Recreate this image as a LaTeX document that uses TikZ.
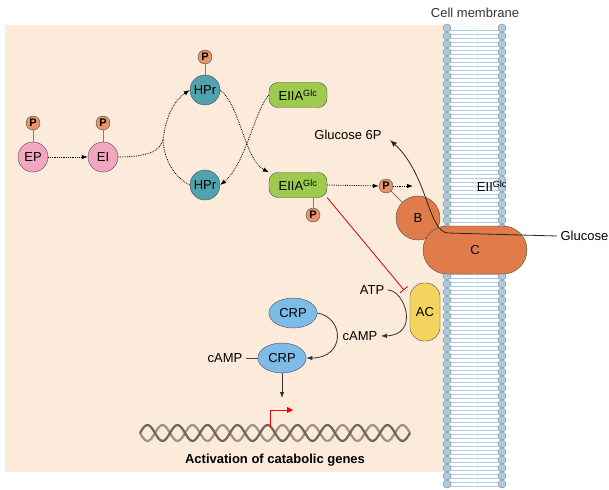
\documentclass[tikz,border=0pt]{standalone}
\usepackage{fontspec}
\setmainfont{Liberation Sans}
\usetikzlibrary{arrows.meta,shapes.geometric}
\definecolor{bg}{HTML}{FCEBDA}
\definecolor{pinkc}{HTML}{F2A6C0}
\definecolor{tealc}{HTML}{4FA3B0}
\definecolor{greenc}{HTML}{9CCB4E}
\definecolor{orangec}{HTML}{E07B4A}
\definecolor{pc}{HTML}{E8956A}
\definecolor{bluec}{HTML}{7DBCE8}
\definecolor{yellowc}{HTML}{F4D35E}
\definecolor{memb}{HTML}{A9CCE3}
\definecolor{dna}{HTML}{9E9282}
\begin{document}
\begin{tikzpicture}[x=1pt,y=-1pt,font=\fontsize{13}{14}\selectfont,
 circ/.style={circle,draw=black!70,minimum size=30pt,inner sep=0pt},
 pn/.style={circle,draw=black!70,fill=pc,minimum size=14pt,inner sep=0pt,font=\fontsize{11}{11}\selectfont\bfseries},
 eiia/.style={rounded corners=9pt,draw=black!70,fill=greenc,minimum width=58pt,minimum height=25pt,inner sep=1pt},
 dotar/.style={densely dotted,thick,-{Latex[length=6pt]}},
 dotl/.style={densely dotted,thick},
 stem/.style={draw=black!50,thick},
 arr/.style={thick,black!80,-{Latex[length=6pt]}}]
\useasboundingbox (0,0) rectangle (609,489);
\fill[bg] (5,25) rectangle (443,472);
% membrane
\fill[white] (443,25) rectangle (505,489);
\foreach \y in {30,34,...,486}{
 \draw[memb,thin] (449,\y) -- (500,\y);
}
\draw[white,thick] (474.5,25) -- (474.5,489);
\foreach \y in {28,36,...,486}{
 \draw[fill=memb,draw=black!50,thin] (447,\y) circle (4);
 \draw[fill=memb,draw=black!50,thin] (502,\y) circle (4);
}
\node[black!80] (cm) at (475,13) {Cell membrane};
% PTS
\node[circ,fill=pinkc] (ep) at (33,157) {EP};
\node[pn] (pep) at (33,123) {P};
\draw[stem] (pep) -- (ep);
\node[circ,fill=pinkc] (ei) at (103,157) {EI};
\node[pn] (pei) at (103,123) {P};
\draw[stem] (pei) -- (ei);
\node[circ,fill=tealc] (hpt) at (205,90) {HPr};
\node[pn] (phpt) at (205,57) {P};
\draw[stem] (phpt) -- (hpt);
\node[circ,fill=tealc] (hpb) at (205,185) {HPr};
\node[eiia] (eat) at (298,95) {EIIA\textsuperscript{Glc}};
\node[eiia] (eab) at (298,185) {EIIA\textsuperscript{Glc}};
\node[pn] (peab) at (313,215) {P};
\draw[stem] (peab) -- (313,197);
\draw[dotar] (ep) -- (ei);
\coordinate (lc) at (163,140);
\draw[dotl] (ei) .. controls (150,157) and (160,150) .. (lc);
\draw[dotar] (lc) .. controls (166,115) and (175,100) .. (hpt.west);
\draw[dotl] (lc) .. controls (164,160) and (175,178) .. (hpb.west);
\draw[dotar] (hpt.east) .. controls (240,105) and (245,160) .. (eab.north west);
\draw[dotar] (eat.west) .. controls (255,110) and (245,165) .. (hpb.east);
% EII
\node[circ,fill=orangec,minimum size=44pt] (b) at (418,218) {B};
\node[rounded corners=24pt,draw=black!70,fill=orangec,minimum width=104pt,minimum height=48pt] (c) at (475,250) {C};
\node[pn] (pb) at (386,186) {P};
\draw[stem] (pb) -- (b);
\draw[dotar] (eab.east) -- (pb.west);
\draw[dotar] (pb.east) -- (413,186);
\node (eii) at (492,186) {EII\textsuperscript{Glc}};
\node (g6p) at (348,135) {Glucose 6P};
\node[anchor=west] (glc) at (557,236) {Glucose};
\draw[thick,black!85,-{Latex[length=7pt]}] (glc.west) -- (448,233) .. controls (428,232) and (428,175) .. (390,140);
% AC and cAMP
\node[rounded corners=14pt,draw=black!70,fill=yellowc,minimum width=30pt,minimum height=58pt] (ac) at (425,312) {AC};
\draw[red!85!black,thick,-{Bar[width=10pt]}] (eab.south east) -- (404,290);
\node (atp) at (372,290) {ATP};
\node (camp) at (360,336) {cAMP};
\draw[arr] (atp.east) .. controls (405,290) and (420,335) .. (camp.east);
\node[ellipse,draw=black!70,fill=bluec,minimum width=46pt,minimum height=30pt] (crpt) at (293,313) {CRP};
\node[ellipse,draw=black!70,fill=bluec,minimum width=46pt,minimum height=30pt] (crpb) at (282,358) {CRP};
\node (campl) at (225,358) {cAMP};
\draw[thick,black!70] (campl.east) -- (crpb.west);
\draw[arr] (crpt.east) .. controls (345,318) and (345,358) .. (crpb.east);
\coordinate (dtop) at (282,398);
\draw[arr] (crpb.south) -- (dtop);
% DNA
\draw[dna,line width=2.2pt,domain=140:410,samples=150] plot (\x,{433+8*sin((\x-140)*12)});
\draw[dna!70!black,line width=2.2pt,domain=140:410,samples=150] plot (\x,{433-8*sin((\x-140)*12)});
\coordinate (prom) at (270,427);
\draw[red,thick,-{Triangle[length=6pt,width=6pt]}] (prom) -- (270,410) -- (293,410);
\node[font=\fontsize{13}{14}\selectfont\bfseries] (act) at (275,460) {Activation of catabolic genes};
\end{tikzpicture}
\end{document}
